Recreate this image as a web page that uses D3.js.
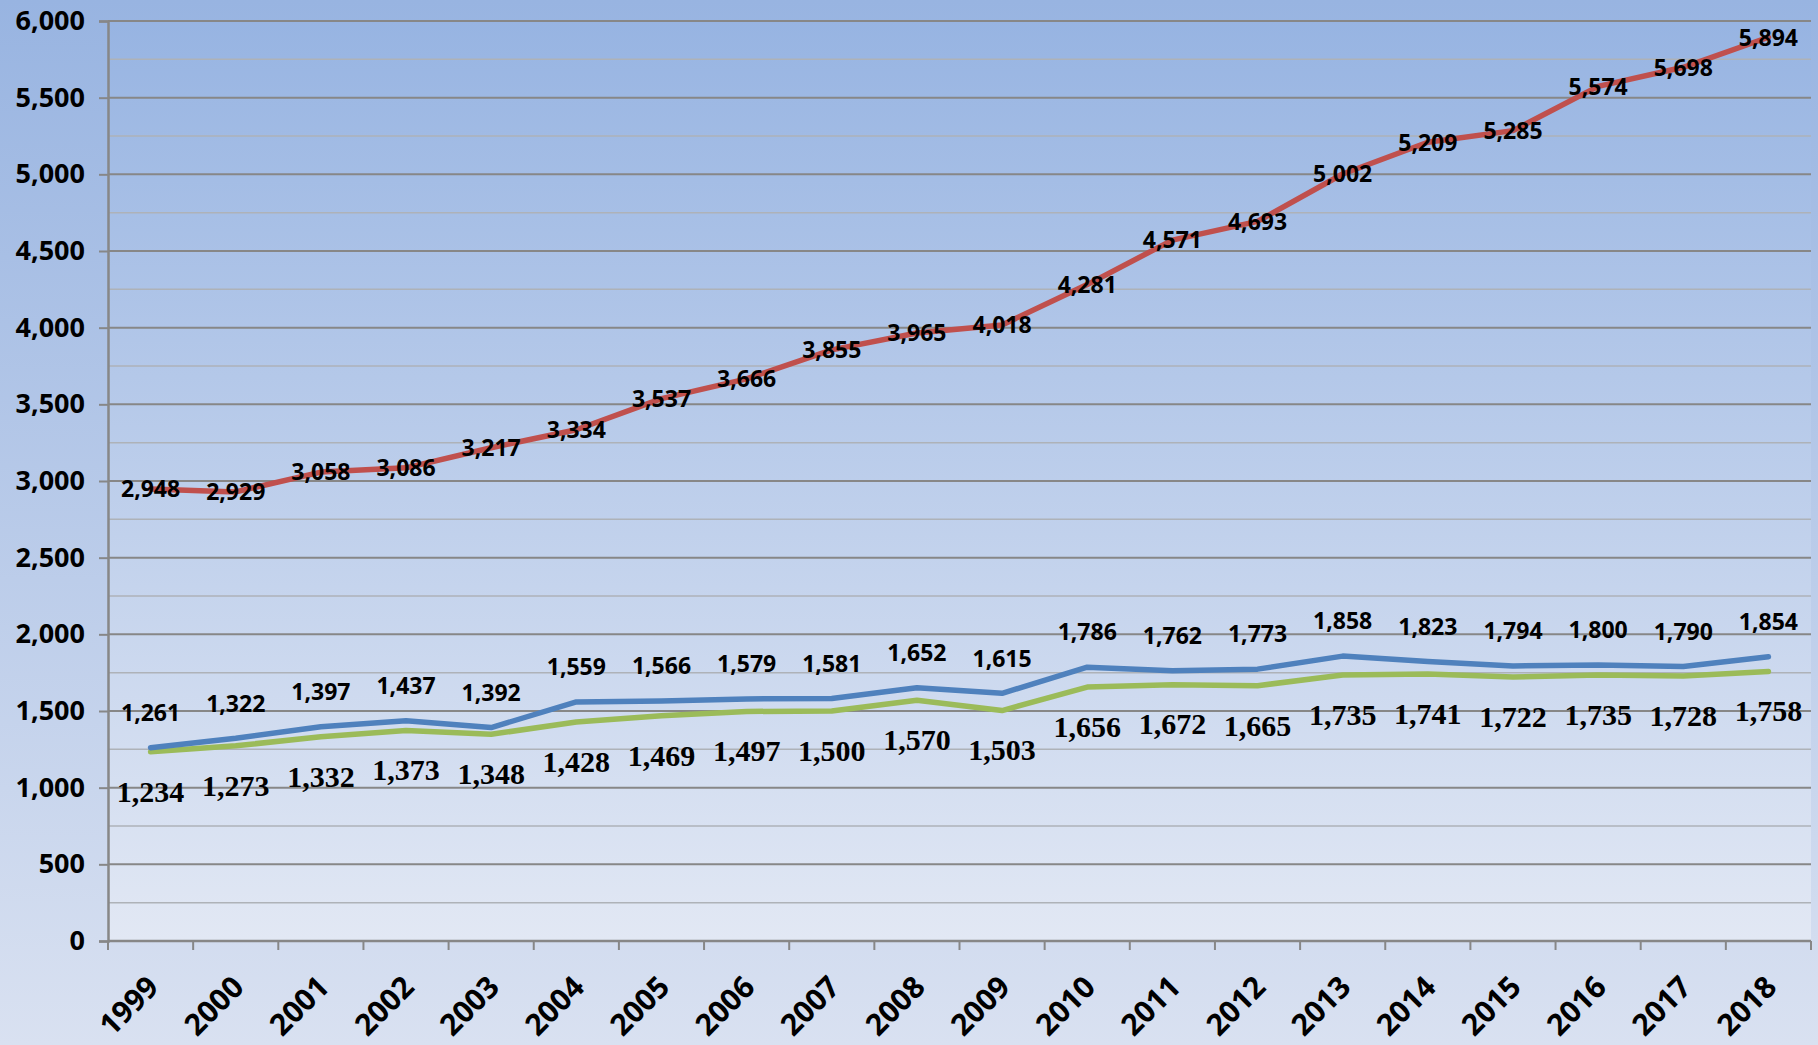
<!DOCTYPE html>
<html>
<head>
<meta charset="utf-8">
<script src="https://cdn.jsdelivr.net/npm/d3@7"></script>
<style>
  html, body { margin: 0; padding: 0; }
  body { width: 1818px; height: 1045px; overflow: hidden; }
  svg { display: block; }
</style>
</head>
<body>
<svg id="chart" width="1818" height="1045"></svg>
<script>
var width = 1818, height = 1045;
var margin = {top: 21, right: 7, bottom: 104, left: 108};

var years = ["1999", "2000", "2001", "2002", "2003", "2004", "2005", "2006", "2007", "2008",
             "2009", "2010", "2011", "2012", "2013", "2014", "2015", "2016", "2017", "2018"];
var redValues = [2948, 2929, 3058, 3086, 3217, 3334, 3537, 3666, 3855, 3965,
                 4018, 4281, 4571, 4693, 5002, 5209, 5285, 5574, 5698, 5894];
var blueValues = [1261, 1322, 1397, 1437, 1392, 1559, 1566, 1579, 1581, 1652,
                  1615, 1786, 1762, 1773, 1858, 1823, 1794, 1800, 1790, 1854];
var greenValues = [1234, 1273, 1332, 1373, 1348, 1428, 1469, 1497, 1500, 1570,
                   1503, 1656, 1672, 1665, 1735, 1741, 1722, 1735, 1728, 1758];
var yTicks = [0, 500, 1000, 1500, 2000, 2500, 3000, 3500, 4000, 4500, 5000, 5500, 6000];

var svg = d3.select("#chart");
var defs = svg.append("defs");

var bgGrad = defs.append("linearGradient").attr("id", "bg")
        .attr("x1", 0).attr("y1", 0).attr("x2", 0).attr("y2", 1);
bgGrad.append("stop").attr("offset", "0%").attr("stop-color", "#98b4e1");
bgGrad.append("stop").attr("offset", "100%").attr("stop-color", "#d9e1f1");

var plotGrad = defs.append("linearGradient").attr("id", "plotbg")
        .attr("x1", 0).attr("y1", 0).attr("x2", 0).attr("y2", 1);
plotGrad.append("stop").attr("offset", "0%").attr("stop-color", "#97b4e2");
plotGrad.append("stop").attr("offset", "100%").attr("stop-color", "#e2e8f4");

svg.append("rect").attr("width", width).attr("height", height).attr("fill", "url(#bg)");

var plotW = width - margin.left - margin.right;
var plotH = height - margin.top - margin.bottom;

var x = d3.scaleBand().domain(years).range([0, plotW]);
var y = d3.scaleLinear().domain([0, 6000]).range([plotH, 0]);

var g = svg.append("g").attr("transform", "translate(" + margin.left + "," + margin.top + ")");

g.append("rect").attr("width", plotW).attr("height", plotH).attr("fill", "url(#plotbg)");

// minor gridlines
g.selectAll(".minor")
        .data(yTicks.slice(0, -1))
        .enter().append("line")
        .attr("class", "minor")
        .attr("x1", 0).attr("x2", plotW)
        .attr("y1", function (d) { return y(d + 250); })
        .attr("y2", function (d) { return y(d + 250); })
        .attr("stroke", "#aeb2b8").attr("stroke-width", 1.5);

// major gridlines
g.selectAll(".major")
        .data(yTicks.slice(1))
        .enter().append("line")
        .attr("class", "major")
        .attr("x1", 0).attr("x2", plotW)
        .attr("y1", function (d) { return y(d); })
        .attr("y2", function (d) { return y(d); })
        .attr("stroke", "#878787").attr("stroke-width", 2);

var y_axis = d3.axisLeft(y).tickValues(yTicks).tickSize(9).tickPadding(14)
        .tickFormat(d3.format(","));
var yg = g.append("g").call(y_axis);
yg.select(".domain").attr("stroke", "#878787").attr("stroke-width", 2.5);
yg.selectAll(".tick line").attr("stroke", "#878787").attr("stroke-width", 2);
yg.selectAll(".tick text")
        .style("font-family", "'Open Sans', sans-serif")
        .style("font-weight", "bold")
        .style("font-size", "27px")
        .attr("fill", "#000");

// x axis with ticks on band boundaries
var xg = g.append("g").attr("transform", "translate(0," + plotH + ")");
xg.append("line").attr("x1", 0).attr("x2", plotW)
        .attr("stroke", "#878787").attr("stroke-width", 2.5);
xg.selectAll(".xtick")
        .data(years.concat(["end"]))
        .enter().append("line")
        .attr("class", "xtick")
        .attr("x1", function (d, i) { return i * x.step(); })
        .attr("x2", function (d, i) { return i * x.step(); })
        .attr("y1", 0).attr("y2", 9)
        .attr("stroke", "#878787").attr("stroke-width", 2);
xg.selectAll(".xlabel")
        .data(years)
        .enter().append("text")
        .attr("class", "xlabel")
        .attr("transform", function (d) {
                return "translate(" + (x(d) + x.bandwidth() / 2 - 6) + ",32) rotate(-45)";
        })
        .attr("text-anchor", "end")
        .attr("dy", "0.75em")
        .style("font-family", "'Open Sans', sans-serif")
        .style("font-weight", "bold")
        .style("font-size", "30px")
        .text(function (d) { return d; });

var cx = function (i) { return x(years[i]) + x.bandwidth() / 2; };

var line = d3.line()
        .x(function (d, i) { return cx(i); })
        .y(function (d) { return y(d); });

var series = [
        {values: greenValues, color: "#9bbb59"},
        {values: blueValues, color: "#4f81bd"},
        {values: redValues, color: "#c0504d"}
];

g.selectAll(".series")
        .data(series)
        .enter().append("path")
        .attr("class", "series")
        .attr("d", function (d) { return line(d.values); })
        .attr("fill", "none")
        .attr("stroke", function (d) { return d.color; })
        .attr("stroke-width", 5.5)
        .attr("stroke-linecap", "round")
        .attr("stroke-linejoin", "round");

var fmt = d3.format(",");

// red labels centered on point
g.selectAll(".redlabel")
        .data(redValues)
        .enter().append("text")
        .attr("class", "redlabel")
        .attr("x", function (d, i) { return cx(i); })
        .attr("y", function (d) { return y(d); })
        .attr("dy", "0.36em")
        .attr("text-anchor", "middle")
        .style("font-family", "'Open Sans', sans-serif")
        .style("font-weight", "bold")
        .style("font-size", "23px")
        .text(function (d) { return fmt(d); });

// blue labels above
g.selectAll(".bluelabel")
        .data(blueValues)
        .enter().append("text")
        .attr("class", "bluelabel")
        .attr("x", function (d, i) { return cx(i); })
        .attr("y", function (d) { return y(d) - 35; })
        .attr("dy", "0.36em")
        .attr("text-anchor", "middle")
        .style("font-family", "'Open Sans', sans-serif")
        .style("font-weight", "bold")
        .style("font-size", "23px")
        .text(function (d) { return fmt(d); });

// green labels below, serif
g.selectAll(".greenlabel")
        .data(greenValues)
        .enter().append("text")
        .attr("class", "greenlabel")
        .attr("x", function (d, i) { return cx(i); })
        .attr("y", function (d) { return y(d) + 39; })
        .attr("dy", "0.36em")
        .attr("text-anchor", "middle")
        .style("font-family", "'Liberation Serif', serif")
        .style("font-weight", "bold")
        .style("font-size", "30px")
        .text(function (d) { return fmt(d); });
</script>
</body>
</html>
